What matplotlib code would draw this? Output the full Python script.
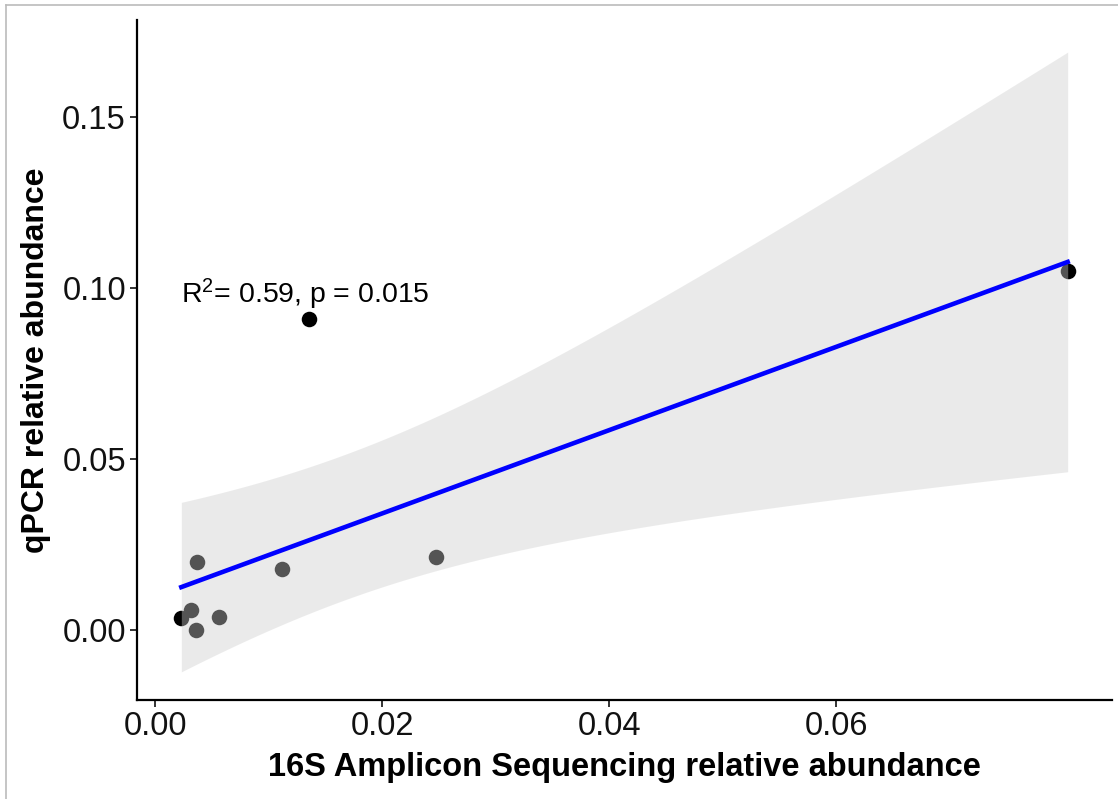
import numpy as np
import matplotlib
matplotlib.use("Agg")
import matplotlib.pyplot as plt
from matplotlib.lines import Line2D

plt.rcParams['font.family'] = ['Liberation Sans', 'DejaVu Sans']
plt.rcParams['mathtext.fontset'] = 'custom'
plt.rcParams['mathtext.rm'] = 'Liberation Sans'
plt.rcParams['mathtext.it'] = 'Liberation Sans:italic'

# data
seq_abund = [0.00229, 0.0031, 0.0036, 0.0056, 0.0037, 0.0112, 0.0247, 0.01357, 0.0804]
qpcr_abund = [0.0035, 0.0058, 0.0, 0.0038, 0.0199, 0.0178, 0.0213, 0.0909, 0.105]
x_ticks = [0.00, 0.02, 0.04, 0.06]
x_ticklabels = ["0.00", "0.02", "0.04", "0.06"]
y_ticks = [0.00, 0.05, 0.10, 0.15]
y_ticklabels = ["0.00", "0.05", "0.10", "0.15"]
annot = r"R$^{2}$= 0.59, p = 0.015"
xlabel = "16S Amplicon Sequencing relative abundance"
ylabel = "qPCR relative abundance"

x = np.array(seq_abund)
y = np.array(qpcr_abund)
n = len(x)
xm, ym = x.mean(), y.mean()
sxx = ((x - xm) ** 2).sum()
sxy = ((x - xm) * (y - ym)).sum()
slope = sxy / sxx
icpt = ym - slope * xm
resid = y - (icpt + slope * x)
s = np.sqrt((resid ** 2).sum() / (n - 2))
t975 = 2.364624  # t quantile df=7
xs = np.linspace(x.min(), x.max(), 200)
fit = icpt + slope * xs
se = s * np.sqrt(1.0 / n + (xs - xm) ** 2 / sxx)
lo, hi = fit - t975 * se, fit + t975 * se

fig = plt.figure(figsize=(11.18, 7.99), dpi=100)
ax = fig.add_axes([137 / 1118, 99 / 799, (1112 - 137) / 1118, (700 - 20) / 799])

ax.scatter(x, y, s=125, color='black', zorder=2, linewidths=0)
ax.fill_between(xs, lo, hi, color='#CECECE', alpha=0.41, linewidth=0, zorder=3)
ax.plot(xs, fit, color='#0000FF', linewidth=3.3, zorder=4)

ax.text(x.min(), 0.0956, annot, fontsize=20.5, ha='left', va='baseline', zorder=5)

span_x = x.max() - x.min()
ax.set_xlim(x.min() - 0.05 * span_x, x.max() + 0.05 * span_x)
ax.set_ylim(-0.0205, 0.1784)

ax.set_xticks(x_ticks)
ax.set_xticklabels(x_ticklabels)
ax.set_yticks(y_ticks)
ax.set_yticklabels(y_ticklabels)
ax.tick_params(axis='both', labelsize=23.5, length=5, width=1.4, color='#333333',
               labelcolor='#111111', pad=3)
for sp in ['top', 'right']:
    ax.spines[sp].set_visible(False)
for sp in ['left', 'bottom']:
    ax.spines[sp].set_linewidth(1.6)
    ax.spines[sp].set_color('black')

ax.set_xlabel(xlabel, fontsize=23.5, fontweight='bold', labelpad=7)
ax.set_ylabel(ylabel, fontsize=23, fontweight='bold', labelpad=8)

# thin image border (screenshot frame)
fig.add_artist(Line2D([6 / 1118, 6 / 1118], [0, 1 - 5 / 799], transform=fig.transFigure,
                      color='#BBBBBB', linewidth=1.2))
fig.add_artist(Line2D([6 / 1118, 1], [1 - 5 / 799, 1 - 5 / 799], transform=fig.transFigure,
                      color='#BBBBBB', linewidth=1.2))

fig.savefig("out.png", dpi=100)
